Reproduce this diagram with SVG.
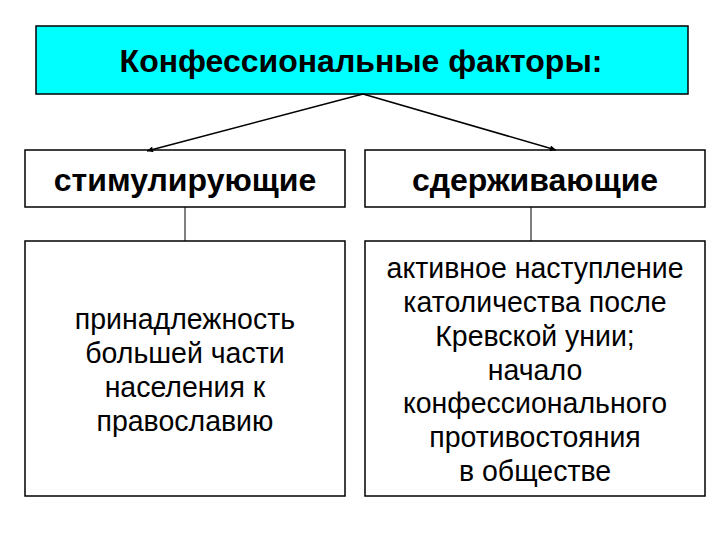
<svg xmlns="http://www.w3.org/2000/svg" width="720" height="540" viewBox="0 0 720 540">
<style>
.box{fill:#fff;stroke:#000;stroke-width:1.5}
.title{fill:#00ffff;stroke:#000;stroke-width:1.5}
.bold{font-family:"Liberation Sans",Arial,sans-serif;font-weight:bold;font-size:32px;fill:#000;text-anchor:middle}
.reg{font-family:"Liberation Sans",Arial,sans-serif;font-size:30px;fill:#000;text-anchor:middle}
.conn{stroke:#000;stroke-width:1.5;fill:none}
.line{stroke:#000;stroke-width:1;fill:none}
</style>
<defs>
<marker id="ah" viewBox="0 0 10 10" refX="10" refY="5" markerWidth="8" markerHeight="6" markerUnits="userSpaceOnUse" orient="auto">
<path d="M0,0 L10,5 L0,10 Z" fill="#000"/>
</marker>
</defs>
<rect width="720" height="540" fill="#fff"/>
<g id="top">
<rect class="title" x="36" y="26" width="652" height="68"/>
<text class="bold" x="361" y="72">Конфессиональные факторы:</text>
</g>
<g id="stim">
<rect class="box" x="25" y="150" width="320" height="57"/>
<text class="bold" x="185" y="191">стимулирующие</text>
</g>
<g id="sderzh">
<rect class="box" x="365" y="150" width="340" height="57"/>
<text class="bold" x="535" y="191">сдерживающие</text>
</g>
<g id="stim-text">
<rect class="box" x="25" y="241" width="320" height="255"/>
<g transform="scale(0.95 1)">
<text class="reg" x="194.7" y="329">принадлежность</text>
<text class="reg" x="194.7" y="363">большей части</text>
<text class="reg" x="194.7" y="397">населения к</text>
<text class="reg" x="194.7" y="431">православию</text>
</g>
</g>
<g id="sderzh-text">
<rect class="box" x="365" y="241" width="340" height="255"/>
<g transform="scale(0.95 1)">
<text class="reg" x="563.2" y="278">активное наступление</text>
<text class="reg" x="563.2" y="312">католичества после</text>
<text class="reg" x="563.2" y="346">Кревской унии;</text>
<text class="reg" x="563.2" y="380">начало</text>
<text class="reg" x="563.2" y="413">конфессионального</text>
<text class="reg" x="563.2" y="447">противостояния</text>
<text class="reg" x="563.2" y="481">в обществе</text>
</g>
</g>
<g id="connectors">
<line class="conn" x1="363" y1="94" x2="147" y2="151" marker-end="url(#ah)"/>
<line class="conn" x1="363" y1="94" x2="556" y2="150" marker-end="url(#ah)"/>
<line class="line" x1="185" y1="207" x2="185" y2="241"/>
<line class="line" x1="531" y1="207" x2="531" y2="241"/>
</g>
</svg>
